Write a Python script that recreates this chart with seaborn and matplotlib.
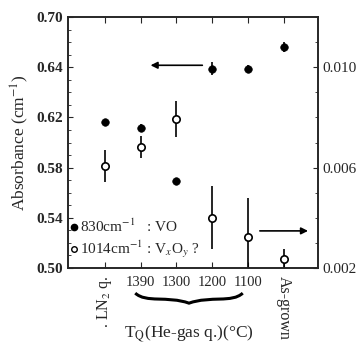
import numpy as np
import pandas as pd
import matplotlib
matplotlib.use("Agg")
import matplotlib.pyplot as plt
from matplotlib.path import Path
from matplotlib.patches import PathPatch
import matplotlib.transforms as mtransforms
import seaborn as sns

# categories along x
categories = ["LN2 q.", "1390", "1300", "1200", "1100", "As-grown"]
tick_labels = [". LN$_2$ q.", "1390", "1300", "1200", "1100", "As-grown"]

# 830 cm-1 : VO (left axis)
vo_vals = [0.616, 0.612, 0.569, 0.659, 0.659, 0.676]
vo_err = [0.0, 0.003, 0.003, 0.005, 0.003, 0.004]

# 1014 cm-1 : VxOy (right axis)
vxoy_vals = [0.00606, 0.00682, 0.00794, 0.00400, 0.00323, 0.00237]
vxoy_err = [0.00065, 0.00045, 0.0007, 0.00125, 0.00155, 0.0004]

left_ticks = [0.50, 0.54, 0.58, 0.62, 0.66, 0.70]
left_tick_labels = ["0.50", "0.54", "0.58", "0.62", "0.64", "0.70"]
right_ticks = [0.002, 0.006, 0.010]
right_tick_labels = ["0.002", "0.006", "0.010"]

sns.set_style("ticks")
plt.rcParams['font.family'] = ['Liberation Serif', 'DejaVu Serif']
plt.rcParams['mathtext.fontset'] = 'stix'

fig = plt.figure(figsize=(3.63, 3.49), dpi=100)
ax = fig.add_axes([0.187, 0.232, 0.689, 0.719])
ax2 = ax.twinx()

x = np.arange(len(categories))
df = pd.DataFrame({"x": x, "vo": vo_vals, "vo_err": vo_err,
                   "vx": vxoy_vals, "vx_err": vxoy_err})

ax.errorbar(df["x"], df["vo"], yerr=df["vo_err"], fmt="none", ecolor="black", elinewidth=1.2)
sns.scatterplot(data=df, x="x", y="vo", ax=ax, color="black", s=30, edgecolor="black", zorder=3)

ax2.errorbar(df["x"], df["vx"], yerr=df["vx_err"], fmt="none", ecolor="black", elinewidth=1.2)
sns.scatterplot(data=df, x="x", y="vx", ax=ax2, facecolor="white", edgecolor="black",
                linewidth=1.2, s=28, zorder=3)

ax.set_xlim(-1.03, 5.95)
ax.set_ylim(0.50, 0.70)
ax2.set_ylim(0.002, 0.012)

ax.set_yticks(left_ticks)
ax.set_yticklabels(left_tick_labels, fontsize=11, fontweight="bold")
ax.set_yticks(np.arange(0.50, 0.7001, 0.01), minor=True)
ax2.set_yticks(right_ticks)
ax2.set_yticklabels(right_tick_labels, fontsize=11)
ax2.set_yticks(np.arange(0.002, 0.0121, 0.001), minor=True)

ax.set_xticks(x)
ax.set_xticklabels([])
ax.tick_params(axis="x", direction="in", top=True, length=4)
ax.tick_params(axis="y", which="both", direction="in")
ax.tick_params(axis="y", which="minor", length=2)
ax2.tick_params(axis="y", which="both", direction="in")
ax2.tick_params(axis="y", which="minor", length=2)

for a in (ax, ax2):
    for sp in a.spines.values():
        sp.set_visible(True)
        sp.set_linewidth(1.2)
ax.set_xlabel("")
ax.set_ylabel("Absorbance (cm$^{-1}$)", fontsize=12.5, labelpad=4)
ax2.set_ylabel("")

# category labels
trans = mtransforms.blended_transform_factory(ax.transData, ax.transAxes)
for i, lab in enumerate(tick_labels):
    if i == 0:
        ax.text(i, -0.03, lab, transform=trans, rotation=90, ha="center", va="top", fontsize=11.5)
    elif i == len(tick_labels) - 1:
        ax.text(i, -0.03, lab, transform=trans, rotation=270, ha="center", va="top", fontsize=11.5)
    else:
        ax.text(i, -0.03, lab, transform=trans, ha="center", va="top", fontsize=10.5)

# brace under the He-gas temperatures
bx0, bx1 = 0.85, 3.85
bm = (bx0 + bx1) / 2
yt, yb = -0.10, -0.14
verts = [(bx0, yt), (bx0 + 0.3, yb), (bm - 0.6, yt - 0.01), (bm, yb),
         (bm + 0.6, yt - 0.01), (bx1 - 0.3, yb), (bx1, yt)]
codes = [Path.MOVETO, Path.CURVE4, Path.CURVE4, Path.CURVE4,
         Path.CURVE4, Path.CURVE4, Path.CURVE4]
ax.add_patch(PathPatch(Path(verts, codes), transform=trans, fill=False, lw=2.2,
                       color="black", clip_on=False))

ax.text(bm, -0.22, "T$_\\mathrm{Q}$(He-gas q.)(°C)", transform=trans, ha="center",
        va="top", fontsize=12.5)

# arrows
ax.annotate("", xy=(1.2, 0.6616), xytext=(2.8, 0.6616),
            arrowprops=dict(arrowstyle="-|>", color="black", lw=1.2))
ax.annotate("", xy=(5.75, 0.5296), xytext=(4.25, 0.5296),
            arrowprops=dict(arrowstyle="-|>", color="black", lw=1.2))

# legend text
ax.plot([-0.85], [0.533], marker="o", ms=4.5, color="black", ls="none", clip_on=False)
ax.text(-0.7, 0.533, "830cm$^{-1}$   : VO", fontsize=11, ha="left", va="center")
ax.plot([-0.85], [0.515], marker="o", ms=4, mfc="white", mec="black", mew=1,
        ls="none", clip_on=False)
ax.text(-0.7, 0.515, "1014cm$^{-1}$ : V$_x$O$_y$ ?", fontsize=11, ha="left", va="center")

fig.savefig("out.png", dpi=100)
